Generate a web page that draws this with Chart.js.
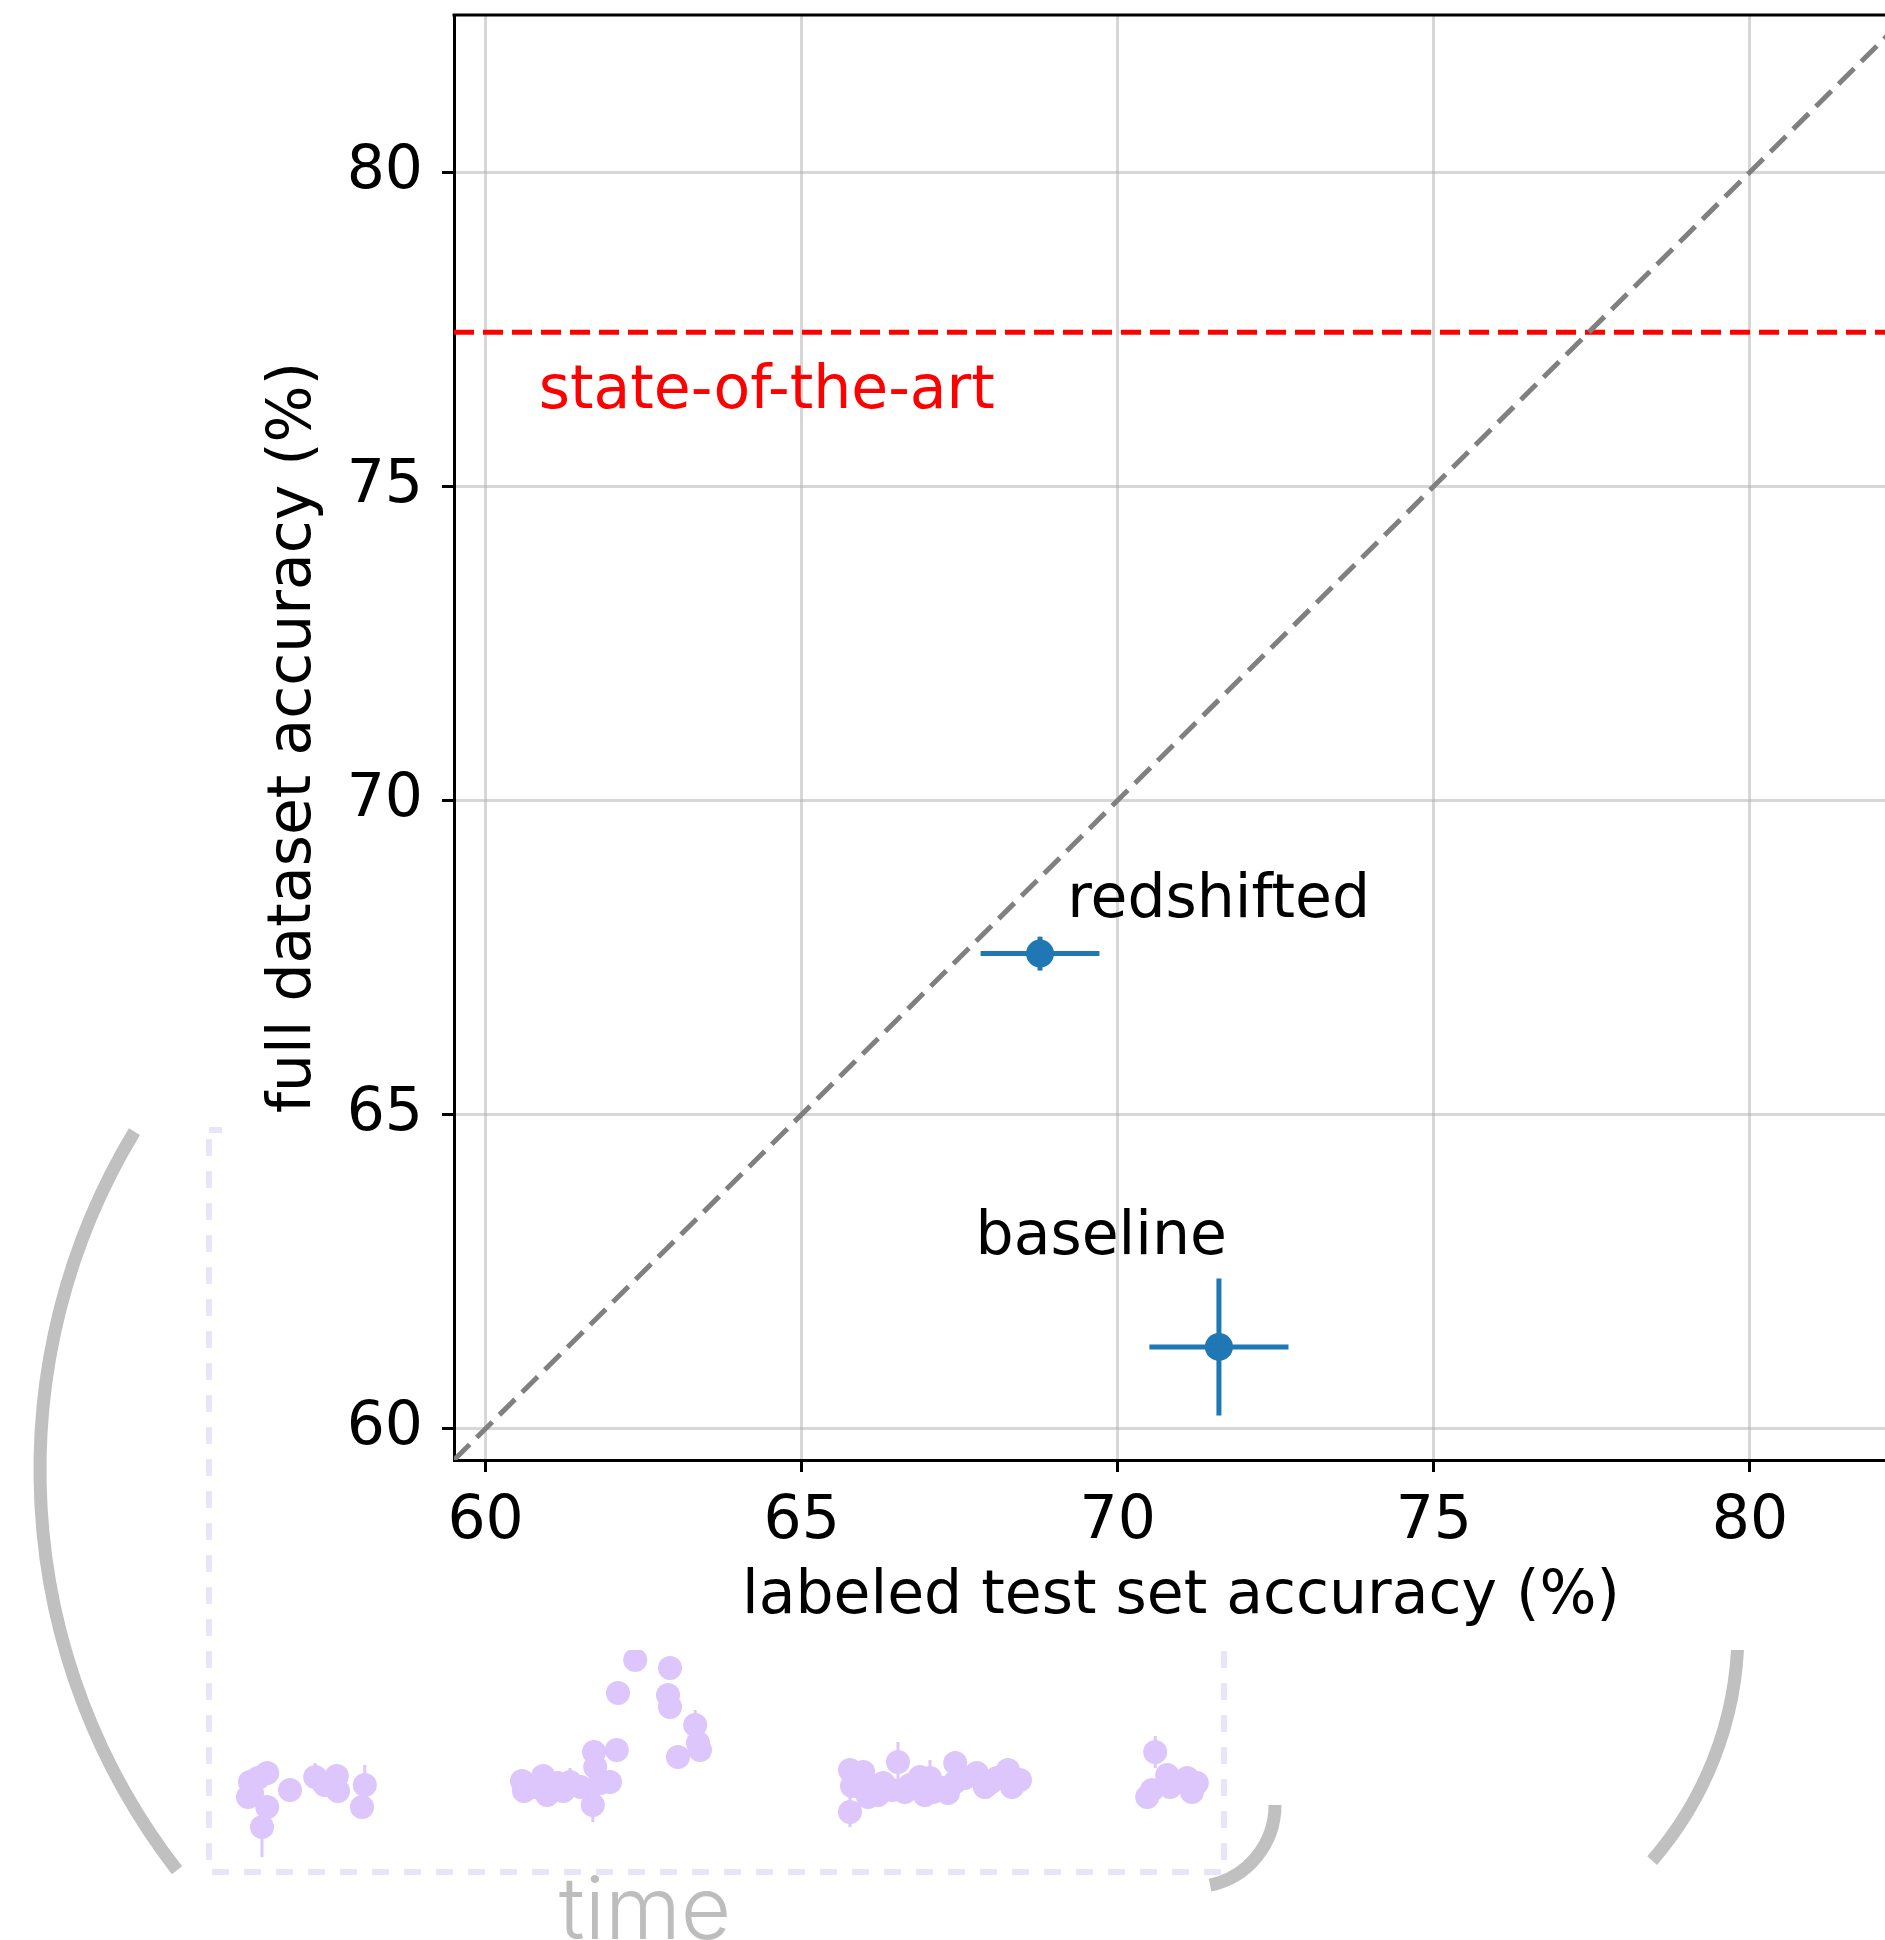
<!DOCTYPE html>
<html>
<head>
<meta charset="utf-8">
<script src="https://cdn.jsdelivr.net/npm/chart.js@4.4.0/dist/chart.umd.min.js"></script>
<style>
    html, body { margin: 0; padding: 0; width: 1885px; height: 1940px; overflow: hidden; background: #fff; }
    #inset { position: absolute; left: 0; top: 0; }
    #main { position: absolute; left: 222px; top: 0; background: #fff; }
</style>
</head>
<body>
<canvas id="inset" width="1885" height="1940"></canvas>
<canvas id="main" width="1700" height="1650"></canvas>
<script>
// main scatter: labeled test set vs full dataset accuracy
const axisMin = 59.5;
const axisMax = 82.5;
const xTicks = [60, 65, 70, 75, 80];
const yTicks = [60, 65, 70, 75, 80];

const runNames = ["redshifted", "baseline"];
const labeledAcc = [68.77, 71.6];
const labeledErr = [0.94, 1.1];
const fullAcc = [67.56, 61.3];
const fullErr = [0.27, 1.09];
const runLabelX = [69.2, 67.75];
const runLabelY = [68.15, 62.78];

const sotaAcc = 77.45;
const sotaText = "state-of-the-art";
const sotaLabelX = 60.84;
const sotaLabelY = 76.25;

// inset: accuracy over time
const timeT = [
    1.25, 1.5, 2.25, 3.4, 3.4, 2.75, 6.25, 9.4, 10.6, 12.1, 12.25, 15.6, 15.25, 1.0,
    35.25, 35.5, 37.9, 38.4, 39.75, 41.25, 42.6, 44.25, 44.4, 44.1, 45, 46.25, 47.1,
    47.25, 49.4, 53.75, 53.5, 53.75, 56.9, 57.25, 57.5, 54.75,
    35.9, 36.9, 39.0, 40.4,
    76.25, 76.5, 76.25, 77.9, 77.75, 79.1, 80.4, 81.5, 82.25, 83.75, 85, 86.25, 86.6,
    87.9, 89.4, 89.4, 90.6, 92.1, 93.1, 94.6, 96, 96.5, 97.5,
    78.5, 79.75, 83.1, 85.6, 88.5, 93.75,
    114.4, 113.4, 114, 115.9, 116.25, 118.4, 119.6, 119
];
const timeAcc = [
    69.4, 68.3, 69.8, 70.3, 66.9, 64.9, 68.6, 69.9, 69.1, 70.0, 68.5, 69.1, 66.9, 67.9,
    69.5, 68.5, 70.0, 68.1, 69.3, 69.4, 68.9, 72.4, 70.9, 67.1, 69.3, 69.4, 72.6,
    78.3, 81.6, 80.8, 78.1, 76.9, 75.1, 73.3, 72.6, 71.9,
    69.1, 68.9, 68.7, 68.5,
    70.6, 69.0, 66.4, 70.4, 68.8, 68.3, 69.3, 68.6, 71.4, 69.1, 69.9, 69.8, 68.4,
    68.8, 71.3, 69.4, 69.8, 70.3, 68.9, 69.8, 70.6, 68.9, 69.6,
    67.9, 68.1, 68.4, 68.1, 68.3, 69.3,
    72.4, 67.9, 68.6, 70.1, 68.9, 69.8, 69.3, 68.4
];
const timeErr = [
    0.5, 0.5, 0.5, 0.6, 0.5, 3.0, 0.5, 1.4, 0.5, 0.5, 0.5, 2.0, 1.2, 0.5,
    0.5, 0.5, 0.5, 0.5, 0.5, 1.4, 0.5, 0.5, 0.5, 1.7, 0.5, 0.5, 0.5,
    1.0, 0.5, 0.5, 0.5, 0.5, 1.5, 0.5, 0.5, 0.5,
    0.5, 0.5, 0.5, 0.5,
    0.5, 0.5, 1.5, 0.5, 0.5, 0.5, 0.5, 0.5, 2.0, 0.5, 0.5, 1.8, 0.5,
    0.5, 1.2, 0.5, 0.5, 0.5, 0.5, 0.5, 0.5, 0.5, 0.5,
    0.5, 0.5, 0.5, 0.5, 0.5, 0.5,
    1.6, 0.5, 0.5, 0.5, 0.5, 0.5, 0.5, 0.5
];

const colors = {
    blue: "#1f77b4",
    red: "#ff0000",
    diag: "#808080",
    grid: "rgba(176,176,176,0.5)",
    purple: "#dcc6fc",
    frame: "#e8e4f9",
    paren: "#c0c0c0",
    time: "#bdbdbd",
};
const FONT = "'DejaVu Sans', sans-serif";

function segment(x0, y0, x1, y1, color, width, dash) {
    return {
	data: [{ x: x0, y: y0 }, { x: x1, y: y1 }],
	showLine: true,
	borderColor: color,
	borderWidth: width,
	borderDash: dash || [],
	pointRadius: 0,
	fill: false,
    };
}

const mainSets = [];
mainSets.push(segment(axisMin, axisMin, axisMax, axisMax, colors.diag, 5, [22, 10]));
mainSets.push(segment(axisMin, sotaAcc, axisMax, sotaAcc, colors.red, 5, [20, 9]));
runNames.forEach((name, i) => {
    mainSets.push(segment(labeledAcc[i] - labeledErr[i], fullAcc[i], labeledAcc[i] + labeledErr[i], fullAcc[i], colors.blue, 5));
    mainSets.push(segment(labeledAcc[i], fullAcc[i] - fullErr[i], labeledAcc[i], fullAcc[i] + fullErr[i], colors.blue, 5));
});
mainSets.push({
    data: runNames.map((n, i) => ({ x: labeledAcc[i], y: fullAcc[i] })),
    backgroundColor: colors.blue,
    borderWidth: 0,
    pointRadius: 14,
});

const textPlugin = {
    id: "texts",
    afterDatasetsDraw(chart) {
	const { ctx, scales: { x, y } } = chart;
	ctx.save();
	ctx.font = `60px ${FONT}`;
	ctx.textAlign = "left";
	ctx.textBaseline = "alphabetic";
	ctx.fillStyle = "#000";
	runNames.forEach((n, i) => {
	    ctx.fillText(n, x.getPixelForValue(runLabelX[i]), y.getPixelForValue(runLabelY[i]));
	});
	ctx.fillStyle = colors.red;
	ctx.fillText(sotaText, x.getPixelForValue(sotaLabelX), y.getPixelForValue(sotaLabelY));
	ctx.restore();
    },
    afterDraw(chart) {
	// top and right spines
	const { ctx, chartArea: a } = chart;
	ctx.save();
	ctx.strokeStyle = "#000";
	ctx.lineWidth = 3;
	ctx.beginPath();
	ctx.moveTo(a.left - 1.5, a.top);
	ctx.lineTo(a.right, a.top);
	ctx.lineTo(a.right, a.bottom);
	ctx.stroke();
	ctx.restore();
    }
};

function axisOpts(ticks, title) {
    return {
	type: "linear",
	min: axisMin,
	max: axisMax,
	afterBuildTicks: s => { s.ticks = ticks.map(v => ({ value: v })); },
	grid: { color: colors.grid, lineWidth: 3, tickColor: "#000", tickWidth: 3, tickLength: 12 },
	border: { color: "#000", width: 3 },
	ticks: { color: "#000", font: { family: FONT, size: 60 }, maxRotation: 0 },
	title: { display: true, text: title, color: "#000", font: { family: FONT, size: 60 } },
    };
}

const xAxis = axisOpts(xTicks, "labeled test set accuracy (%)");
xAxis.afterFit = s => {
    s.height = 190;
    s.paddingLeft = 0;
    s.paddingRight = 0;
};
xAxis.ticks.padding = 14;
xAxis.title.padding = { top: 0, bottom: 17 };

const yAxis = axisOpts(yTicks, "full dataset accuracy (%)");
yAxis.afterFit = s => {
    s.width = 232;
    s.paddingTop = 0;
    s.paddingBottom = 0;
};
yAxis.ticks.padding = 19;
yAxis.title.padding = { top: 36, bottom: 0 };

new Chart(document.getElementById("main"), {
    type: "scatter",
    data: { datasets: mainSets },
    options: {
	responsive: false,
	animation: false,
	layout: { padding: { left: 0, top: 15, right: 14, bottom: 0 } },
	plugins: { legend: { display: false }, tooltip: { enabled: false } },
	scales: { x: xAxis, y: yAxis },
    },
    plugins: [textPlugin],
});

// inset chart, partly hidden behind the main figure
const insetSets = [];
timeT.forEach((t, i) => {
    insetSets.push(segment(t, timeAcc[i] - timeErr[i], t, timeAcc[i] + timeErr[i], colors.purple, 3));
});
insetSets.push({
    data: timeT.map((t, i) => ({ x: t, y: timeAcc[i] })),
    backgroundColor: colors.purple,
    borderWidth: 0,
    pointRadius: 12,
});
insetSets.forEach(d => { d.clip = false; });

const decorPlugin = {
    id: "decor",
    beforeDatasetsDraw(chart) {
	const ctx = chart.ctx;
	ctx.save();
	ctx.strokeStyle = colors.frame;
	ctx.lineWidth = 6;
	ctx.setLineDash([17, 15]);
	ctx.strokeRect(209, 1130, 1015, 742);
	ctx.setLineDash([]);
	ctx.strokeStyle = colors.paren;
	ctx.lineWidth = 13;
	ctx.lineCap = "butt";
	const deg = Math.PI / 180;
	ctx.beginPath();
	ctx.arc(693, 1470, 653, 142.2 * deg, 211.2 * deg);
	ctx.stroke();
	ctx.beginPath();
	ctx.arc(1388, 1631, 350, -40 * deg, 41 * deg);
	ctx.stroke();
	ctx.beginPath();
	ctx.arc(1193, 1805, 82, 0, 78 * deg);
	ctx.stroke();
	ctx.restore();
    }
};

new Chart(document.getElementById("inset"), {
    type: "scatter",
    data: { datasets: insetSets },
    options: {
	responsive: false,
	animation: false,
	layout: { padding: { left: 56, right: 651, top: 1640, bottom: 0 } },
	plugins: { legend: { display: false }, tooltip: { enabled: false } },
	scales: {
	    x: {
		min: -23,
		max: 124.25,
		afterFit: s => {
		    s.height = 60;
		    s.paddingLeft = 0;
		    s.paddingRight = 0;
		},
		grid: { display: false },
		border: { display: false },
		ticks: { display: false },
		title: { display: true, text: "time", color: colors.time, font: { family: "Inter", size: 87, weight: 300, lineHeight: 0.6 }, padding: { top: 0, bottom: 1 } },
	    },
	    y: { display: false, min: 59.6, max: 83.6 },
	},
    },
    plugins: [decorPlugin],
});
</script>
</body>
</html>
